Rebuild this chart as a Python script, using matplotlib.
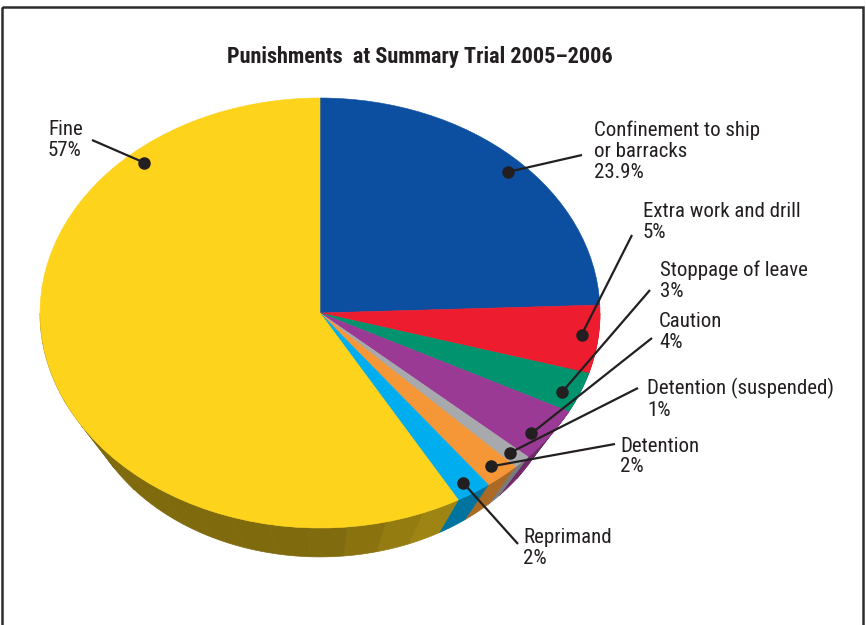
import numpy as np
import matplotlib.pyplot as plt
import matplotlib.font_manager as fm
from matplotlib.patches import Wedge, Polygon, Rectangle
from matplotlib.transforms import Affine2D

# look for a narrow font, the reference uses a condensed face
fam, stretch = 'Liberation Sans', 'normal'
narrow = [f for f in fm.fontManager.ttflist
          if str(f.stretch) in ('condensed', 'semi-condensed', 'extra-condensed')
          or 'Narrow' in f.name or 'Condensed' in f.name]
for pref in ['Liberation Sans Narrow', 'Roboto Condensed', 'Open Sans', 'Noto Sans', 'DejaVu Sans']:
    hits = [f for f in narrow if f.name == pref or f.name.startswith(pref)]
    if hits:
        fam, stretch = hits[0].name, 'condensed'
        break
plt.rcParams['font.family'] = [fam, 'DejaVu Sans']
plt.rcParams['font.stretch'] = stretch

labels = ['Confinement to ship\nor barracks', 'Extra work and drill', 'Stoppage of leave',
          'Caution', 'Detention (suspended)', 'Detention', 'Reprimand', 'Fine']
values = [23.9, 5, 3, 4, 1, 2, 2, 57]
colors = ['#0c4fa0', '#ed1c2e', '#00936e', '#9b3a94', '#a7a9ac', '#f59637', '#00aeef', '#fdd31c']

# layout: label top-left, end of leader line, dot position inside slice
label_pos = [(594, 121), (643, 202), (660, 261), (659, 312), (647, 378), (620, 437), (523, 528), (48, 120)]
line_end = [(582, 155), (632, 235), (650, 290), (652, 338), (638, 388), (615, 444), (518, 544), (92, 140)]
dot_frac = [0.52, 0.45, 0.6, 0.63, 0.45, 0.5, 0.55, 0.8]

fig = plt.figure(figsize=(8.66, 6.25), dpi=100)
ax = fig.add_axes([0, 0, 1, 1])
ax.set_xlim(0, 866)
ax.set_ylim(625, 0)
ax.axis('off')

cx, cy, rx, ry = 320, 313, 280, 215
k, d = 0.86, 59   # bottom ellipse scale and drop (perspective)

frac = np.array(values) / sum(values)
bounds = -90 + 360 * np.concatenate([[0], np.cumsum(frac)])


def top_pt(t):
    t = np.radians(t)
    return cx + rx * np.cos(t), cy + ry * np.sin(t)


def bot_pt(t):
    t = np.radians(t)
    return cx + k * rx * np.cos(t), cy + d + k * ry * np.sin(t)


def shade(c, f):
    rgb = np.array(plt.matplotlib.colors.to_rgb(c))
    return tuple(rgb * f)


# side of the pie, in facets
for i in range(len(values)):
    a, b = max(bounds[i], 0), min(bounds[i + 1], 180)
    if b <= a:
        continue
    edges = np.arange(a, b, 8.0)
    edges = np.append(edges, b)
    for j in range(len(edges) - 1):
        t = np.linspace(edges[j], edges[j + 1], 12)
        tx, ty = top_pt(t)
        bx, by = bot_pt(t[::-1])
        mid = (edges[j] + edges[j + 1]) / 2
        f = 0.5 + 0.22 * np.clip((90 - mid) / 45, 0, 1)
        c = shade(colors[i], f)
        ax.add_patch(Polygon(np.column_stack([np.r_[tx, bx], np.r_[ty, by]]),
                             closed=True, fc=c, ec=c, lw=0.5))

# top surface
tr = Affine2D().scale(rx, ry).translate(cx, cy) + ax.transData
for i in range(len(values)):
    ax.add_patch(Wedge((0, 0), 1, bounds[i], bounds[i + 1], fc=colors[i], ec=colors[i],
                       lw=0.4, transform=tr))

# leader lines, dots, labels
for i in range(len(values)):
    ang = bounds[i] + dot_frac[i] * (bounds[i + 1] - bounds[i])
    t = np.radians(ang)
    dx, dy = cx + 0.94 * rx * np.cos(t), cy + 0.94 * ry * np.sin(t)
    ex, ey = line_end[i]
    ax.plot([dx, ex], [dy, ey], color='#231f20', lw=1.6, solid_capstyle='butt')
    ax.plot(dx, dy, 'o', color='#231f20', ms=8)
    pct = f'{values[i]:g}%'
    ax.text(label_pos[i][0], label_pos[i][1], labels[i] + '\n' + pct, ha='left', va='top',
            fontsize=15 if stretch == 'condensed' else 12.5, color='#231f20', linespacing=1.1)

ax.text(420, 57, 'Punishments  at Summary Trial 2005\u20132006', ha='center', va='center',
        fontsize=16 if stretch == 'condensed' else 12.5, fontweight='bold', color='#231f20')

ax.add_patch(Rectangle((2, 7), 861, 640, fill=False, ec='#2d2d2d', lw=1.8))

fig.savefig('out.png', dpi=100)
